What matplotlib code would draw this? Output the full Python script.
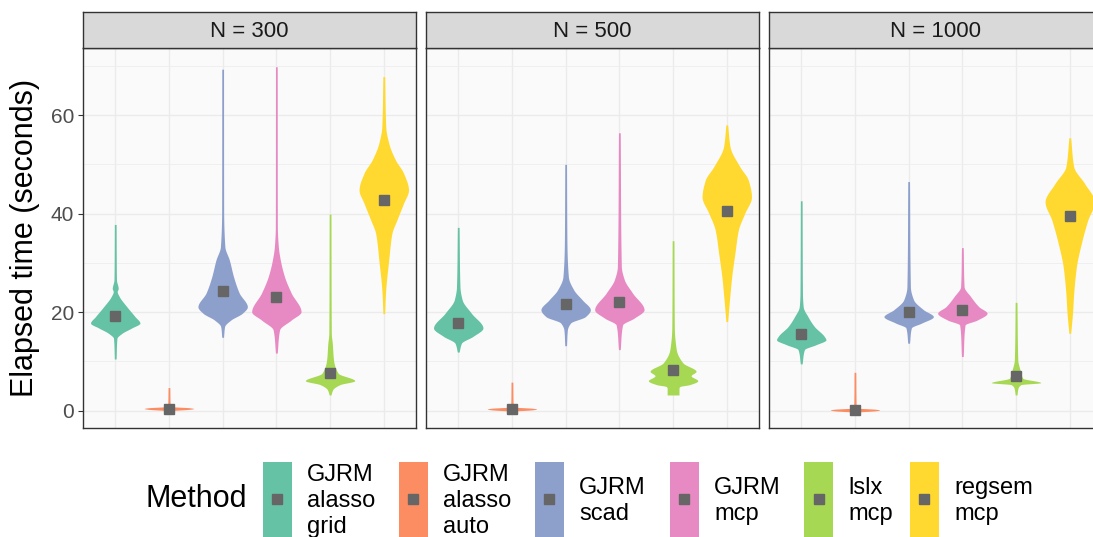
import numpy as np
import matplotlib
matplotlib.use("Agg")
import matplotlib.pyplot as plt
from matplotlib.patches import Rectangle

plt.rcParams['font.family'] = ['Liberation Sans', 'DejaVu Sans']

methods = ["GJRM\nalasso\ngrid", "GJRM\nalasso\nauto", "GJRM\nscad",
           "GJRM\nmcp", "lslx\nmcp", "regsem\nmcp"]
colors = ["#66C2A5", "#FC8D62", "#8DA0CB", "#E78AC3", "#A6D854", "#FFD92F"]
sizes = ["N = 300", "N = 500", "N = 1000"]

# violin outlines: (seconds, relative half-width), top to bottom
violin_300 = [
    [(37.8, .035), (26.6, .05), (24.8, .12), (24.2, .08), (23.2, .16), (21.1, .47),
     (19.1, .8), (17.8, 1.0), (16.8, .67), (15.7, .27), (14.7, .07), (10.5, .035)],
    [(4.7, .035), (1.2, .05), (0.85, .1), (0.6, .85), (0.45, 1.0), (0.3, .85), (0.05, .08)],
    [(69.3, .035), (40.7, .04), (33.3, .09), (30.6, .27), (27.2, .44), (23.9, .67),
     (21.1, 1.0), (19.8, .8), (18.4, .33), (17.1, .08), (14.9, .035)],
    [(69.8, .035), (37.4, .04), (33.3, .08), (30.6, .16), (27.2, .33), (23.9, .6),
     (20.1, 1.0), (18.4, .6), (16.4, .13), (11.7, .035)],
    [(39.9, .035), (15.7, .05), (13.7, .09), (10.3, .14), (7.6, .33), (6.1, 1.0),
     (5.3, .4), (4.3, .11), (3.2, .035)],
    [(67.8, .035), (57.6, .08), (54.3, .2), (50.9, .47), (48.2, .8), (44.8, 1.0),
     (42.1, .8), (38.7, .53), (36.0, .33), (30.6, .2), (23.9, .07), (19.7, .035)],
]
violin_500 = [
    [(37.2, .035), (25.2, .07), (22.5, .16), (19.8, .53), (16.8, 1.0), (15.1, .6),
     (13.7, .13), (11.9, .035)],
    [(5.8, .035), (1.1, .05), (0.75, .1), (0.5, .85), (0.35, 1.0), (0.2, .85), (-0.05, .08)],
    [(50.0, .035), (34.7, .05), (27.2, .11), (24.5, .33), (22.5, .67), (20.5, 1.0),
     (19.1, .8), (17.8, .2), (16.4, .07), (13.2, .035)],
    [(56.4, .035), (29.3, .08), (26.6, .2), (23.9, .53), (20.5, 1.0), (18.8, .6),
     (17.4, .13), (12.4, .035)],
    [(34.5, .035), (17.1, .05), (12.4, .13), (9.7, .4), (8.0, .93), (7.1, .73),
     (6.1, 1.0), (5.3, .67), (4.9, .27), (4.6, .24), (3.2, .24)],
    [(58.0, .035), (53.6, .13), (49.5, .53), (46.8, .87), (43.4, 1.0), (40.1, .73),
     (36.7, .47), (32.0, .33), (27.2, .2), (22.5, .11), (18.1, .035)],
]
violin_1000 = [
    [(42.6, .035), (23.9, .05), (21.1, .08), (19.1, .27), (17.1, .53), (15.1, .93),
     (14.4, 1.0), (13.4, .6), (12.4, .13), (9.5, .035)],
    [(7.8, .035), (0.9, .05), (0.55, .1), (0.3, .85), (0.15, 1.0), (0.0, .85), (-0.25, .08)],
    [(46.5, .035), (25.2, .07), (22.5, .2), (20.5, .6), (19.1, 1.0), (17.8, .53),
     (16.8, .11), (13.7, .035)],
    [(33.1, .035), (25.2, .07), (23.2, .33), (21.1, .67), (19.8, 1.0), (18.4, .6),
     (17.4, .11), (11.0, .035)],
    [(22.0, .035), (10.3, .07), (8.3, .16), (6.6, .27), (5.7, 1.0), (5.3, .2),
     (4.6, .08), (3.2, .035)],
    [(55.4, .035), (49.5, .16), (46.1, .6), (42.4, 1.0), (38.7, .73), (34.0, .47),
     (29.3, .27), (23.9, .16), (19.8, .11), (15.7, .035)],
]
means_300 = [19.2, 0.4, 24.3, 23.0, 7.6, 42.8]
means_500 = [17.8, 0.3, 21.6, 22.0, 8.2, 40.5]
means_1000 = [15.5, 0.1, 20.0, 20.5, 7.1, 39.5]

violins = [violin_300, violin_500, violin_1000]
means = [means_300, means_500, means_1000]


def pchip(x, y, xs):
    # monotone cubic so the outline stays smooth without overshooting
    h = np.diff(x)
    d = np.diff(y) / h
    m = np.zeros_like(y)
    m[0], m[-1] = d[0], d[-1]
    for k in range(1, len(x) - 1):
        if d[k - 1] * d[k] > 0:
            w1 = 2 * h[k] + h[k - 1]
            w2 = h[k] + 2 * h[k - 1]
            m[k] = (w1 + w2) / (w1 / d[k - 1] + w2 / d[k])
    idx = np.clip(np.searchsorted(x, xs) - 1, 0, len(x) - 2)
    t = (xs - x[idx]) / h[idx]
    h00 = 2 * t**3 - 3 * t**2 + 1
    h10 = t**3 - 2 * t**2 + t
    h01 = -2 * t**3 + 3 * t**2
    h11 = t**3 - t**2
    return h00 * y[idx] + h10 * h[idx] * m[idx] + h01 * y[idx + 1] + h11 * h[idx] * m[idx + 1]


def draw_violin(ax, pos, profile, color, half=0.46):
    v = np.array([p[0] for p in profile])[::-1]
    w = np.array([p[1] for p in profile])[::-1]
    ys = np.linspace(v[0], v[-1], 800)
    ws = np.clip(pchip(v, w, ys), 0.03, None) * half
    ax.fill_betweenx(ys, pos - ws, pos + ws, color=color, linewidth=0, zorder=3)


W, H = 1093, 537
fig = plt.figure(figsize=(W / 100, H / 100), dpi=100)

panel_left = [83, 426, 769]
panel_w = 333
top, bottom, strip_h = 48, 428, 36

for i, size in enumerate(sizes):
    ax = fig.add_axes([panel_left[i] / W, 1 - bottom / H, panel_w / W, (bottom - top) / H])
    ax.set_facecolor("#FAFAFA")
    ax.set_xlim(0.4, 6.6)
    ax.set_ylim(-3.5, 73.6)
    ax.set_yticks([0, 20, 40, 60])
    ax.set_yticks([10, 30, 50, 70], minor=True)
    ax.set_xticks(range(1, 7))
    ax.grid(True, which="major", color="#EBEBEB", linewidth=1.0, zorder=0)
    ax.grid(True, which="minor", axis="y", color="#EEEEEE", linewidth=0.6, zorder=0)
    ax.set_axisbelow(True)
    ax.tick_params(axis="x", length=0, labelbottom=False)
    ax.tick_params(axis="y", which="minor", length=0)
    if i == 0:
        ax.tick_params(axis="y", which="major", length=3.5, width=0.8, color="#333333",
                       labelsize=15, labelcolor="#4D4D4D", pad=3)
    else:
        ax.tick_params(axis="y", length=0, labelleft=False)
    for s in ax.spines.values():
        s.set_color("#333333")
        s.set_linewidth(1.0)

    for j in range(len(methods)):
        draw_violin(ax, j + 1, violins[i][j], colors[j])
    ax.plot(range(1, 7), means[i], "s", color="#666666", markersize=6.5, zorder=4)

    sax = fig.add_axes([panel_left[i] / W, 1 - top / H, panel_w / W, strip_h / H])
    sax.set_facecolor("#D9D9D9")
    sax.set_xticks([])
    sax.set_yticks([])
    for s in sax.spines.values():
        s.set_color("#333333")
        s.set_linewidth(1.0)
    sax.text(0.5, 0.45, size, ha="center", va="center", fontsize=16, color="#1A1A1A",
             transform=sax.transAxes)

fig.text(25 / W, 1 - 238 / H, "Elapsed time (seconds)", rotation=90,
         ha="center", va="center", fontsize=22)

# legend along the bottom
lax = fig.add_axes([0, 0, 1, 1])
lax.set_xlim(0, W)
lax.set_ylim(H, 0)
lax.axis("off")
lax.text(145, 499, "Method", ha="left", va="center", fontsize=22)
key_left = [262.5, 398.5, 534.5, 669.5, 804, 909.5]
for j, name in enumerate(methods):
    x0 = key_left[j]
    lax.add_patch(Rectangle((x0, 461.7), 29, 76, facecolor=colors[j], edgecolor="none"))
    lax.plot(x0 + 14.5, 499.3, "s", color="#666666", markersize=6.5)
    lax.text(x0 + 44.5, 501, name, ha="left", va="center", fontsize=17,
             linespacing=1.26)

fig.savefig("out.png", dpi=100)
